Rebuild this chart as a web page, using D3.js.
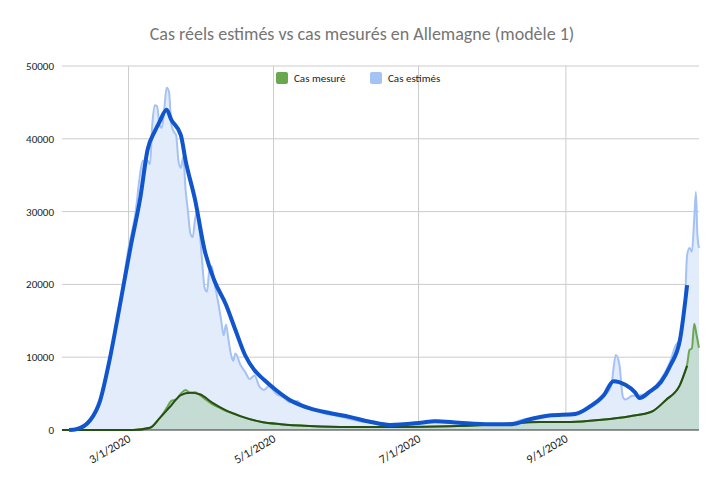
<!DOCTYPE html>
<html><head><meta charset="utf-8">
<script src="https://cdn.jsdelivr.net/npm/d3@7"></script>
<style>body{margin:0;background:#fff}text{font-family:Calibri,Carlito,"Liberation Sans",Arial,sans-serif}</style>
</head><body><svg id="c" width="724" height="489"></svg>
<script>
const startDate = "2020-02-02";
// smoothed estimated (day offset, thousands)
const estSmoothDays = [3,6,12,16,20,24,29,33,36,39,41,44,46,50,52,56,60,64,69,73,77,81,85,90,96,104,113,121,130,138,151,157,167,180,189,197,205,216,222,228,232,237,241,243,247,252,256,260,263];
const estSmoothVals = [0,0.1,1.4,4,9.6,16.5,25.4,32,38.5,41,42.3,44,42.6,40.5,37,31.6,24.7,20.6,17.2,13.7,10.3,8.2,6.9,5.5,4.1,3,2.3,1.8,1.1,0.7,1,1.2,1,0.8,0.8,1.5,2,2.2,3.2,4.8,6.7,6.2,5.2,4.4,5.2,6.6,8.9,12.4,19.9];
// raw estimated
const estRawDays = [0,5,12,16,20,24,28,31,33,34,36,37,38,39,40,41,42,43,44,45,46,47,48,49,50,51,52,53,54,55,56,57,58,59,60,61,62,63,64,66,67,68,69,70,71,72,73,75,77,79,81,83,85,87,90,93,96,99,102,106,110,115,120,125,130,135,140,150,157,165,175,185,195,205,215,222,228,231,233,234.5,236,237,240,244,248,252,256,258,260,262,263,264,265,266,266.7,267.3,268];
const estRawVals = [0,0.1,1.5,4,9.6,16.5,25,30,35.5,37,37,36.5,42,44.6,44.5,42,41.5,44,47,46.5,42,41,40.5,37,36,37.5,33,30,27,26.5,29,30,27,23,19.5,19,22,22.5,20.5,17,15,13,14.5,12.5,10.5,9.5,10.5,9,8,7,7.5,6,5.5,6,5,4.5,3.8,4,3,2.8,2.3,2,1.6,1.2,1,0.7,0.8,1,1.3,1,0.9,0.7,1.5,2,2.3,3,4.6,6,10.3,9,4.5,4.2,4.7,4.8,5.5,7,9.5,11.5,12.5,17,24,25,24.5,29,32.7,27,25];
// smoothed measured
const mesSmoothDays = [0,30,37,41,46,50,54,58,63,69,75,84,92,104,121,142,163,184,201,214,227,239,248,254,260,263];
const mesSmoothVals = [0,0,0.3,1.6,3.4,4.8,5.1,4.9,3.8,2.7,1.9,1.1,0.8,0.55,0.4,0.4,0.5,0.8,1.1,1.1,1.4,1.9,2.5,4.1,6.2,8.8];
// raw measured
const mesRawDays = [0,30,37,41,44,46,48,50,52,54,56,58,60,63,66,69,72,75,80,84,92,104,121,142,163,184,201,214,227,239,248,254,260,262,263,264,265,266,267,268];
const mesRawVals = [0,0,0.3,1.6,3,4,4.2,5,5.5,5.1,5.2,4.8,4.3,3.6,3.1,2.6,2.3,1.9,1.4,1.1,0.8,0.55,0.4,0.4,0.5,0.8,1.1,1.1,1.4,1.9,2.5,4.1,6.2,8,9,11,11.2,14.6,13,11.3];
const yTicks = [0,10000,20000,30000,40000,50000];
const xTickDates = ["2020-03-01","2020-05-01","2020-07-01","2020-09-01"];
const title = "Cas réels estimés vs cas mesurés en Allemagne (modèle 1)";
const legendNames = ["Cas mesuré","Cas estimés"];

const svg = d3.select("#c");
const L=62,R=699,T=66,B=430;
const t0 = d3.timeParse("%Y-%m-%d")(startDate);
const day = d => d3.timeHour.offset(t0, Math.round(d*24));
const x = d3.scaleTime().domain([t0, day(268)]).range([L,R]);
const y = d3.scaleLinear().domain([0,50000]).range([B,T]);
const pts = (ds,vs)=>ds.map((d,i)=>({t:day(d),v:vs[i]*1000}));

// grid
svg.append("g").selectAll("line").data(yTicks.slice(1)).join("line")
 .attr("x1",L).attr("x2",R).attr("y1",d=>y(d)).attr("y2",d=>y(d)).attr("stroke","#ccc");
const pd = d3.timeParse("%Y-%m-%d");
svg.append("g").selectAll("line").data(xTickDates).join("line")
 .attr("x1",d=>x(pd(d))).attr("x2",d=>x(pd(d))).attr("y1",T).attr("y2",B).attr("stroke","#ccc");
svg.append("g").selectAll("text").data(yTicks).join("text")
 .attr("x",L-8).attr("y",d=>y(d)+4).attr("text-anchor","end").attr("font-size",11).attr("fill","#222").text(d=>d);
svg.append("g").selectAll("text").data(xTickDates).join("text")
 .attr("transform",d=>`translate(${x(pd(d))+3},${B+11}) rotate(-30)`).attr("text-anchor","end").attr("font-size",12).attr("fill","#222")
 .text(d=>d3.timeFormat("%-m/%-d/%Y")(pd(d)));

const area = d3.area().x(d=>x(d.t)).y0(B).y1(d=>y(d.v)).curve(d3.curveMonotoneX);
const line = d3.line().x(d=>x(d.t)).y(d=>y(d.v)).curve(d3.curveMonotoneX);
const er = pts(estRawDays,estRawVals), mr = pts(mesRawDays,mesRawVals);
svg.append("path").attr("d",area(er)).attr("fill","#e3ecfb");
svg.append("path").attr("d",area(mr)).attr("fill","#c4dcd4");
svg.append("path").attr("d",line(er)).attr("fill","none").attr("stroke","#a4c2f4").attr("stroke-width",2);
svg.append("path").attr("d",line(mr)).attr("fill","none").attr("stroke","#6aa84f").attr("stroke-width",2);
svg.append("line").attr("x1",L).attr("x2",R).attr("y1",B).attr("y2",B).attr("stroke","#333");
svg.append("path").attr("d",line(pts(mesSmoothDays,mesSmoothVals))).attr("fill","none").attr("stroke","#274e13").attr("stroke-width",2);
svg.append("path").attr("d",line(pts(estSmoothDays,estSmoothVals))).attr("fill","none").attr("stroke","#1155cc").attr("stroke-width",4).attr("stroke-linejoin","round");

svg.append("text").attr("x",362).attr("y",40).attr("text-anchor","middle").attr("font-size",18).attr("fill","#757575").text(title);
const lg = svg.append("g");
[[276,"#6aa84f"],[370,"#a4c2f4"]].forEach(([lx,c],i)=>{
  lg.append("rect").attr("x",lx).attr("y",72).attr("width",12).attr("height",12).attr("rx",2).attr("fill",c);
  lg.append("text").attr("x",lx+18).attr("y",82).attr("font-size",11).attr("fill","#222").text(legendNames[i]);
});
</script></body></html>
